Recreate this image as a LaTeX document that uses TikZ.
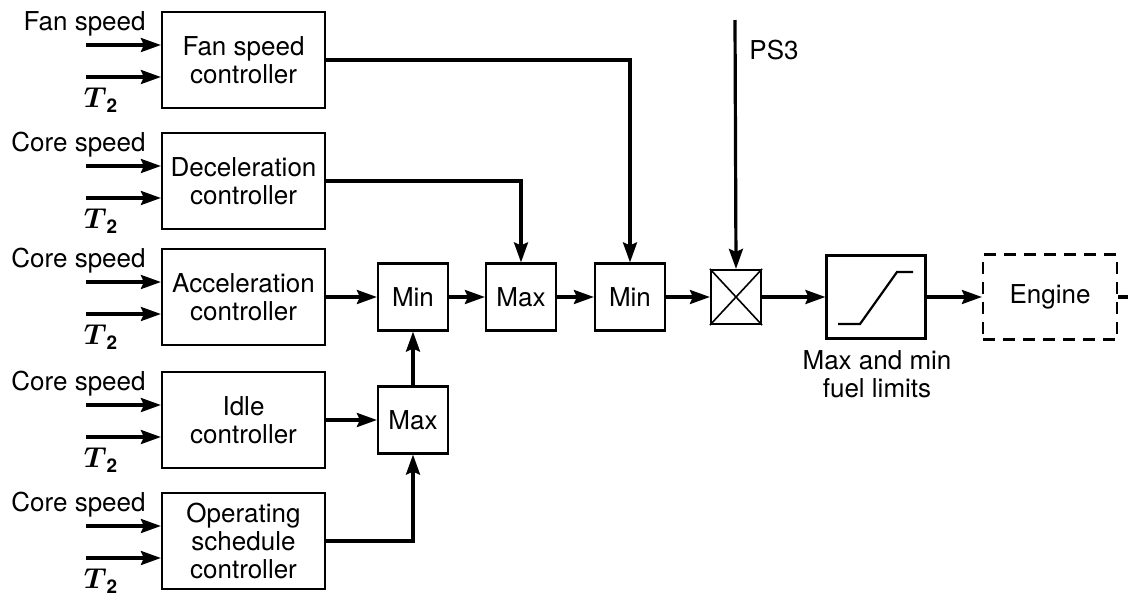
\documentclass[tikz,border=0pt]{standalone}
\usepackage{fontspec}
\usepackage{amsmath}
\setmainfont{TeX Gyre Heros}
\usetikzlibrary{arrows.meta,positioning}
\tikzset{
  ctrlbox/.style={draw,line width=1.1pt,align=center,minimum width=81.5pt,minimum height=48pt,inner sep=2pt},
  selbox/.style={draw,line width=1.1pt,minimum width=35pt,minimum height=33.5pt,inner sep=1pt},
  mulbox/.style={draw,line width=1.1pt,minimum width=25pt,minimum height=27pt,inner sep=0pt},
  limbox/.style={draw,line width=1.1pt,minimum width=49.5pt,minimum height=41.5pt,inner sep=0pt},
  plantbox/.style={draw,line width=1.1pt,dash pattern=on 6pt off 4pt,minimum width=67pt,minimum height=42.5pt},
  sig/.style={-{Stealth[length=10pt,width=7pt,inset=1.5pt]},line width=1.6pt},
  wire/.style={line width=1.6pt},
  inlabel/.style={inner sep=0pt}
}
\begin{document}
\begin{tikzpicture}[x=0.5pt,y=-0.5pt,every node/.style={font=\fontsize{13}{14}\selectfont}]
  \useasboundingbox (0,0) rectangle (1128,595);
  % controllers with their two inputs
  \foreach \n/\y/\s/\lab in {fan/60/{Fan speed\\controller}/Fan speed,
                             dec/181/{Deceleration\\controller}/Core speed,
                             acc/297/{Acceleration\\controller}/Core speed,
                             idle/420/{Idle\\controller}/Core speed,
                             ops/541/{Operating\\schedule\\controller}/Core speed}{
    \node[ctrlbox] (\n) at (243.5,\y) {\s};
    \node[inlabel,anchor=base east] (\n-l) at (146,\y-30) {\lab};
    \node[inlabel,font=\fontsize{13.5}{14}\selectfont] (\n-t) at (101,\y+40) {$\boldsymbol{T}_{\mathbf{2}}$};
    \coordinate (\n-a) at (86,\y-15);
    \coordinate (\n-b) at (86,\y+17);
    \draw[sig] (\n-a) -- (\n-a -| \n.west);
    \draw[sig] (\n-b) -- (\n-b -| \n.west);
  }

  \node[selbox] (min1) at (413,297) {Min};
  \node[selbox] (max2) at (413,420) {Max};
  \node[selbox] (max1) at (521,297) {Max};
  \node[selbox] (min2) at (630,297) {Min};
  \node[mulbox] (mul) at (736,297) {};
  \draw[line width=0.8pt] (mul.north west) -- (mul.south east) (mul.north east) -- (mul.south west);
  \node[limbox] (lim) at (876,297) {};
  \draw[line width=1.1pt,shift={(lim.center)}] (-38,27) -- (-16,27) -- (21,-25) -- (37,-25);
  \node[inlabel,align=center] (lim-l) at (877,374) {Max and min\\fuel limits};
  \node[plantbox] (eng) at (1050,297) {Engine};
  \coordinate (ps3) at (735,20);
  \node[inlabel,anchor=west] (ps3-l) at (749,50) {PS3};
  \coordinate (out) at (1128,297);

  \draw[sig] (fan.east) -| (min2.north);
  \draw[sig] (dec.east) -| (max1.north);
  \draw[sig] (acc.east) -- (min1.west);
  \draw[sig] (idle.east) -- (max2.west);
  \draw[sig] (ops.east) -| (max2.south);
  \draw[sig] (max2.north) -- (min1.south);
  \draw[sig] (min1) -- (max1);
  \draw[sig] (max1) -- (min2);
  \draw[sig] (min2) -- (mul);
  \draw[sig] (ps3) -- (mul.north);
  \draw[sig] (mul) -- (lim);
  \draw[sig] (lim) -- (eng);
  \draw[wire] (eng.east) -- (out);
\end{tikzpicture}
\end{document}
